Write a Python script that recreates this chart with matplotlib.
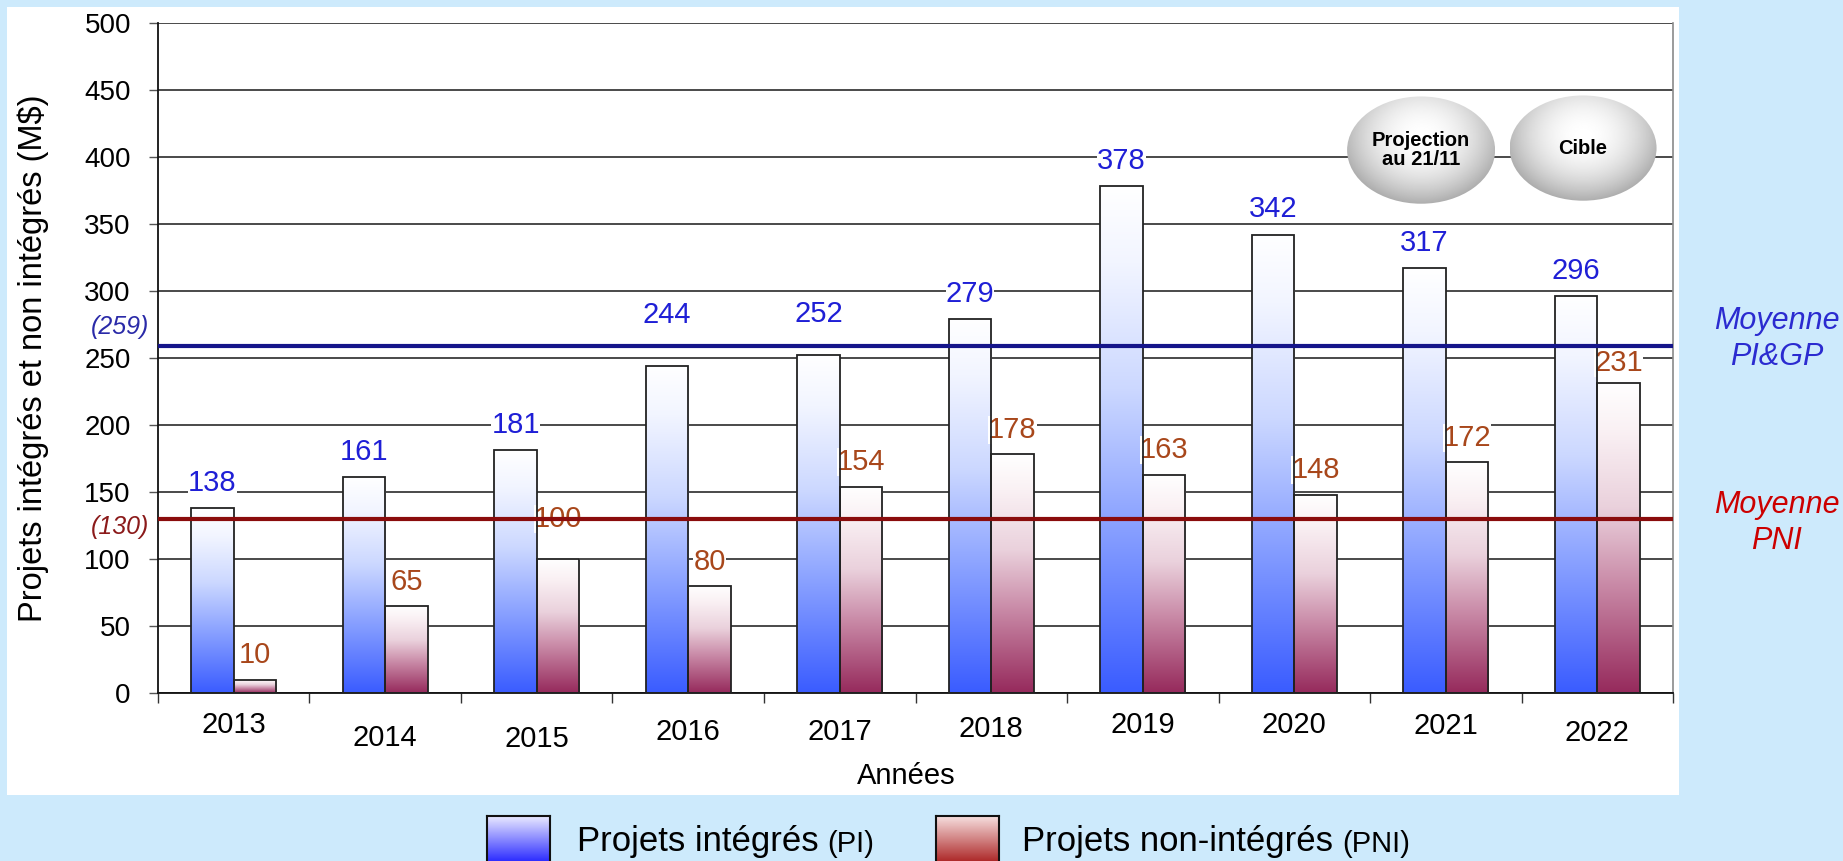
import numpy as np
import matplotlib
matplotlib.use("Agg")
import matplotlib.pyplot as plt
import matplotlib.transforms as mtransforms
from matplotlib.colors import LinearSegmentedColormap
from matplotlib.patches import Rectangle, Ellipse

plt.rcParams["font.family"] = ["Liberation Sans", "DejaVu Sans"]

# ---------------------------------------------------------------
# Data
# ---------------------------------------------------------------
YEARS = ["2013", "2014", "2015", "2016", "2017",
         "2018", "2019", "2020", "2021", "2022"]
PI = [138, 161, 181, 244, 252, 279, 378, 342, 317, 296]
PNI = [10, 65, 100, 80, 154, 178, 163, 148, 172, 231]
MEAN_PI = 259
MEAN_PNI = 130

# small per-label nudges seen on the original (value units / points)
PI_NUDGE = [0, 0, 0, 19, 12, 0, 0, 0, 0, 0]
PNI_NUDGE = [0, 0, 12, 0, 0, 0, 0, 0, 0, -3]
YEAR_DROP = [0, 9, 10, 5, 5, 3, 0, 0, 1, 6]

BG = "#cdeafc"
BLUE_TXT = "#1f1fd6"
BROWN_TXT = "#a8471b"
BAR_W = 0.28

blue_cmap = LinearSegmentedColormap.from_list(
    "pi", [(0.0, "#3a5cff"), (0.35, "#8ea5ff"), (0.6, "#ccd8ff"),
           (0.85, "#f2f5ff"), (1.0, "#ffffff")])
red_cmap = LinearSegmentedColormap.from_list(
    "pni", [(0.0, "#962a5c"), (0.35, "#c98aa7"), (0.6, "#ead1dc"),
            (0.85, "#faf1f4"), (1.0, "#ffffff")])
grad = np.linspace(0, 1, 256).reshape(-1, 1)

fig = plt.figure(figsize=(18.43, 8.61), dpi=100, facecolor=BG)

# white panel behind the chart
fig.patches.append(Rectangle((0.0038, 0.0767), 0.9072, 0.9152,
                             transform=fig.transFigure, facecolor="white",
                             edgecolor="none", zorder=-5))

ax = fig.add_axes([0.0857, 0.1951, 0.8221, 0.7785])
ax.set_facecolor("white")

x = np.arange(len(YEARS))

# gradient-filled bars
for i in x:
    ax.imshow(grad, extent=(i - BAR_W, i, 0, PI[i]), origin="lower",
              aspect="auto", cmap=blue_cmap, vmin=0, vmax=1, zorder=2,
              interpolation="bilinear")
    ax.imshow(grad, extent=(i, i + BAR_W, 0, PNI[i]), origin="lower",
              aspect="auto", cmap=red_cmap, vmin=0, vmax=1, zorder=2,
              interpolation="bilinear")
ax.bar(x - BAR_W, PI, BAR_W, align="edge", fill=False,
       edgecolor="#222222", linewidth=1.3, zorder=3)
ax.bar(x, PNI, BAR_W, align="edge", fill=False,
       edgecolor="#222222", linewidth=1.3, zorder=3)

# value labels
for i in x:
    ax.text(i - BAR_W / 2, PI[i] + 19 + PI_NUDGE[i], str(PI[i]),
            ha="center", va="center", fontsize=21, color=BLUE_TXT,
            zorder=2.5, bbox=dict(facecolor="white", edgecolor="none", pad=0))
    ax.text(i + BAR_W / 2, PNI[i] + 18 + PNI_NUDGE[i], str(PNI[i]),
            ha="center", va="center", fontsize=21, color=BROWN_TXT,
            zorder=2.5, bbox=dict(facecolor="white", edgecolor="none", pad=0))

# averages
ax.axhline(MEAN_PI, color="#15158a", linewidth=3, zorder=4)
ax.axhline(MEAN_PNI, color="#8a0c0c", linewidth=3, zorder=4)
trans = ax.get_yaxis_transform()
ax.text(-0.006, MEAN_PI + 14, f"({MEAN_PI})", transform=trans, ha="right",
        va="center", fontsize=18, style="italic", color="#2a2aa8",
        clip_on=False)
ax.text(-0.006, MEAN_PNI - 6, f"({MEAN_PNI})", transform=trans, ha="right",
        va="center", fontsize=18, style="italic", color="#8b1a1a",
        clip_on=False)

# axes styling
ax.set_xlim(-0.5, len(YEARS) - 0.5)
ax.set_ylim(0, 500)
ax.set_yticks(np.arange(0, 501, 50))
ax.yaxis.grid(True, color="#3c3c3c", linewidth=1.3)
ax.set_axisbelow(True)
ax.tick_params(axis="y", labelsize=20, length=6.5, width=1,
               color="#555555", pad=13)

ax.set_xticks(np.arange(-0.5, len(YEARS), 1.0))
ax.set_xticklabels([])
ax.set_xticks(x, minor=True)
ax.set_xticklabels(YEARS, minor=True)
ax.tick_params(axis="x", which="major", length=7, width=1, color="#333333")
ax.tick_params(axis="x", which="minor", length=0, labelsize=21, pad=13)
for lab, d in zip(ax.get_xticklabels(minor=True), YEAR_DROP):
    lab.set_transform(lab.get_transform() + mtransforms.ScaledTranslation(
        0, -d / 72, fig.dpi_scale_trans))

ax.spines["top"].set_visible(False)
ax.spines["left"].set_color("#111111")
ax.spines["left"].set_linewidth(1.3)
ax.spines["bottom"].set_color("#111111")
ax.spines["bottom"].set_linewidth(1.3)
ax.spines["right"].set_color("#8a8a8a")
ax.spines["right"].set_linewidth(1.2)

fig.text(0.0179, 0.584, "Projets intégrés et non intégrés (M$)",
         rotation=90, ha="center", va="center", fontsize=23.5)
fig.text(0.4916, 0.0987, "Années", ha="center", va="center", fontsize=21)

# grey bubbles at top right
yy, xx = np.mgrid[1:-1:200j, -1:1:200j]
rr = np.sqrt(xx ** 2 + ((yy - 0.25) / 1.15) ** 2)
bubble = 1.0 - 0.27 * np.clip(rr, 0, 1.4) ** 2
for (cx, cy, w, h, label) in [(0.8337, 0.810, 0.0977, 0.160, "Projection\nau 21/11"),
                              (0.9406, 0.813, 0.0970, 0.157, "Cible")]:
    ins = ax.inset_axes([cx - w / 2, cy - h / 2, w, h])
    ins.set_axis_off()
    ins.patch.set_alpha(0)
    im = ins.imshow(bubble, extent=(0, 1, 0, 1), cmap="gray", vmin=0,
                    vmax=1, aspect="auto", interpolation="bilinear")
    el = Ellipse((0.5, 0.5), 1, 1, transform=ins.transAxes)
    im.set_clip_path(el)
    ins.text(0.5, 0.5, label, ha="center", va="center", fontsize=14.5,
             fontweight="bold", linespacing=1.05, transform=ins.transAxes)

# right-hand labels
fig.text(0.9640, 0.606, "Moyenne\nPI&GP", ha="center", va="center",
         fontsize=22, style="italic", color="#2b2bd0", linespacing=1.25)
fig.text(0.9640, 0.393, "Moyenne\nPNI", ha="center", va="center",
         fontsize=22, style="italic", color="#cc0000", linespacing=1.25)

# legend at the bottom
leg_grad = np.linspace(0, 1, 64).reshape(-1, 1)
leg_blue = LinearSegmentedColormap.from_list("lb", ["#0a0aff", "#e8e8ff"])
leg_red = LinearSegmentedColormap.from_list("lr", ["#a00808", "#f6dede"])
for (x0, cmap) in [(487, leg_blue), (936, leg_red)]:
    lax = fig.add_axes([x0 / 1843, -0.01, 63 / 1843, 0.0623])
    lax.imshow(leg_grad, extent=(0, 1, 0, 1), origin="lower", cmap=cmap,
               aspect="auto", interpolation="bilinear")
    lax.set_xticks([])
    lax.set_yticks([])
    for s in lax.spines.values():
        s.set_linewidth(1.5)
        s.set_color("#111111")

ov = fig.add_axes([0, 0, 1, 1])
ov.set_axis_off()
ov.patch.set_alpha(0)
t1 = fig.text(577 / 1843, 0.012, "Projets intégrés", fontsize=25,
              va="baseline", ha="left")
ov.annotate("(PI)", xy=(1, 0), xycoords=t1, xytext=(9, 0),
            textcoords="offset pixels", fontsize=21, va="bottom")
t2 = fig.text(1022 / 1843, 0.012, "Projets non-intégrés", fontsize=25,
              va="baseline", ha="left")
ov.annotate("(PNI)", xy=(1, 0), xycoords=t2, xytext=(9, 0),
            textcoords="offset pixels", fontsize=21, va="bottom")

fig.savefig("out.png", dpi=100, facecolor=BG)
